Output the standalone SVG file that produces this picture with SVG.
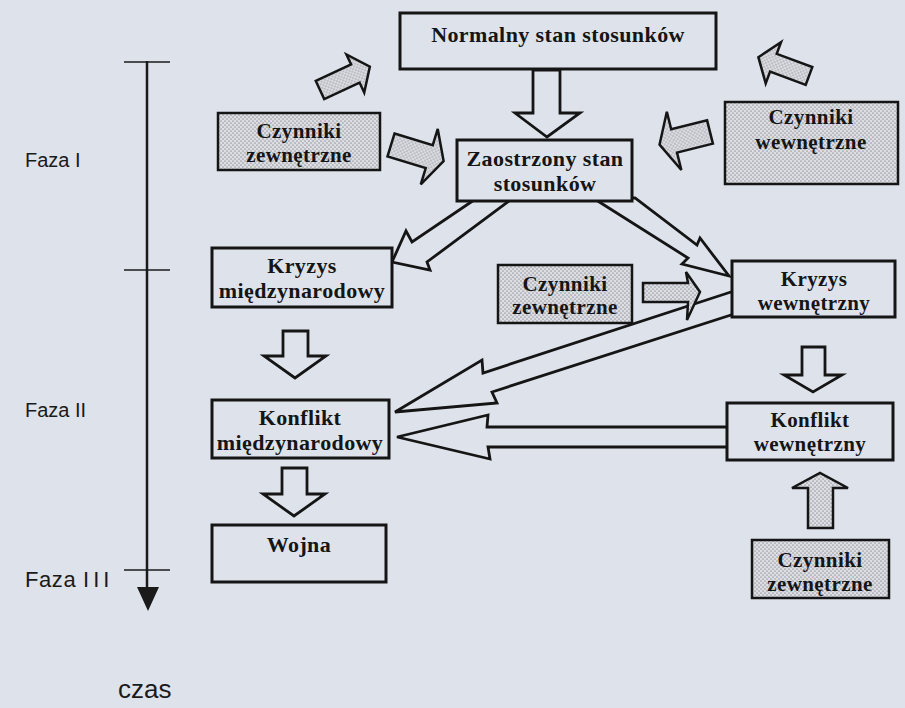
<svg xmlns="http://www.w3.org/2000/svg" width="905" height="708" viewBox="0 0 905 708">
<defs>
<pattern id="dots" width="4" height="4" patternUnits="userSpaceOnUse">
<rect width="4" height="4" fill="#dcdee3"/>
<circle cx="1" cy="1" r="0.85" fill="#9c9ea5"/>
<circle cx="3" cy="3" r="0.85" fill="#9c9ea5"/>
</pattern>
</defs>
<style>
.bg{fill:#dee3eb}
.box{fill:#dee3eb;stroke:#151515;stroke-width:3}
.dbox{fill:url(#dots);stroke:#151515;stroke-width:2.5}
.arr{fill:#dee3eb;stroke:#151515;stroke-width:2.8;stroke-linejoin:miter}
.darr{fill:url(#dots);stroke:#151515;stroke-width:2.5;stroke-linejoin:miter}
.t{font-family:"Liberation Serif","Times New Roman",serif;font-weight:bold;font-size:22px;fill:#151515;text-anchor:middle;letter-spacing:0.4px}
.c{font-size:21px}
.s{font-family:"Liberation Sans",Arial,sans-serif;font-size:20px;fill:#1a1a1a}
.axis{stroke:#1a1a1a;stroke-width:2.5;fill:none}
.tick{stroke:#1a1a1a;stroke-width:1.6}
</style>
<rect class="bg" x="0" y="0" width="905" height="708"/>

<g id="timeline">
<line class="axis" x1="147" y1="61" x2="147" y2="592"/>
<line class="tick" x1="124" y1="62" x2="170" y2="62"/>
<line class="tick" x1="124" y1="270" x2="170" y2="270"/>
<line class="tick" x1="124" y1="570" x2="170" y2="570"/>
<polygon points="137,587 159,587 148,611" fill="#1a1a1a"/>
<text class="s" x="25" y="167">Faza I</text>
<text class="s" x="25" y="417">Faza II</text>
<text class="s" x="25" y="587" style="font-size:22px;letter-spacing:0.6px">Faza <tspan style="letter-spacing:4px">III</tspan></text>
<text class="s" x="118" y="698" style="font-size:26px">czas</text>
</g>

<g id="connectors">
<polygon class="arr" points="533,70 560,70 560,113 580,113 547,137 515,113 533,113"/>
<polygon class="darr" transform="translate(320,90) rotate(-25)" points="0,-10 39,-10 39,-21 55,0 39,21 39,10 0,10"/>
<polygon class="darr" transform="translate(391,145) rotate(17)" points="0,-12 40,-12 40,-29 55,0 40,29 40,12 0,12"/>
<polygon class="darr" transform="translate(809,76) rotate(200.4)" points="0,-9.5 38,-9.5 38,-22 54,0 38,22 38,9.5 0,9.5"/>
<polygon class="darr" transform="translate(710,132) rotate(166)" points="0,-12 37,-12 37,-30 52,0 37,30 37,12 0,12"/>
<polygon class="arr" points="477,198 412,242 406,231 392,262 430,270 427,262 513,198"/>
<polygon class="arr" points="593,198 688,258 682,264 729,276 700,238 697,245 635,198"/>
<polygon class="arr" points="734,291 483,373 482,360 395,412 497,403 492,392 734,314"/>
<polygon class="darr" points="643,283 688,283 686,272 700,292 687,320 688,302 643,302"/>
<polygon class="arr" points="729,427 487,427 488,415 397,437 490,459 488,447 729,447"/>
<polygon class="arr" points="283,331 308,331 308,356 326,356 295,378 264,356 283,356"/>
<polygon class="arr" points="282,468 307,468 307,494 325,494 294,516 263,494 282,494"/>
<polygon class="arr" points="802,347 825,347 825,375 842,375 813,392 784,375 802,375"/>
<polygon class="darr" points="808,528 833,528 833,488 848,488 820,473 792,488 808,488"/>
</g>

<g id="normalny">
<rect class="box" x="400" y="13" width="316" height="56"/>
<text class="t" x="558" y="42">Normalny stan stosunków</text>
</g>
<g id="zaostrzony">
<rect class="box" x="457" y="140" width="175" height="61"/>
<text class="t" x="545" y="166">Zaostrzony stan</text>
<text class="t" x="545" y="191">stosunków</text>
</g>
<g id="czynniki-zew-1">
<rect class="dbox" x="218" y="113" width="162" height="57"/>
<text class="t c" x="299" y="138">Czynniki</text>
<text class="t c" x="299" y="162">zewnętrzne</text>
</g>
<g id="czynniki-wew">
<rect class="dbox" x="725" y="102" width="173" height="82"/>
<text class="t c" x="811" y="124">Czynniki</text>
<text class="t c" x="811" y="149">wewnętrzne</text>
</g>
<g id="kryzys-miedz">
<rect class="box" x="212" y="248" width="180" height="59"/>
<text class="t" x="302" y="273">Kryzys</text>
<text class="t" x="302" y="298">międzynarodowy</text>
</g>
<g id="czynniki-zew-2">
<rect class="dbox" x="498" y="265" width="134" height="58"/>
<text class="t c" x="565" y="291">Czynniki</text>
<text class="t c" x="565" y="314">zewnętrzne</text>
</g>
<g id="kryzys-wew">
<rect class="box" x="732" y="261" width="163" height="56"/>
<text class="t c" x="814" y="286">Kryzys</text>
<text class="t c" x="814" y="310">wewnętrzny</text>
</g>
<g id="konflikt-miedz">
<rect class="box" x="212" y="400" width="177" height="58"/>
<text class="t" x="300" y="425">Konflikt</text>
<text class="t" x="300" y="450">międzynarodowy</text>
</g>
<g id="konflikt-wew">
<rect class="box" x="727" y="403" width="166" height="57"/>
<text class="t c" x="810" y="427">Konflikt</text>
<text class="t c" x="810" y="451">wewnętrzny</text>
</g>
<g id="wojna">
<rect class="box" x="212" y="525" width="174" height="57"/>
<text class="t" x="299" y="552">Wojna</text>
</g>
<g id="czynniki-zew-3">
<rect class="dbox" x="752" y="540" width="137" height="58"/>
<text class="t c" x="820" y="567">Czynniki</text>
<text class="t c" x="820" y="591">zewnętrzne</text>
</g>
</svg>
